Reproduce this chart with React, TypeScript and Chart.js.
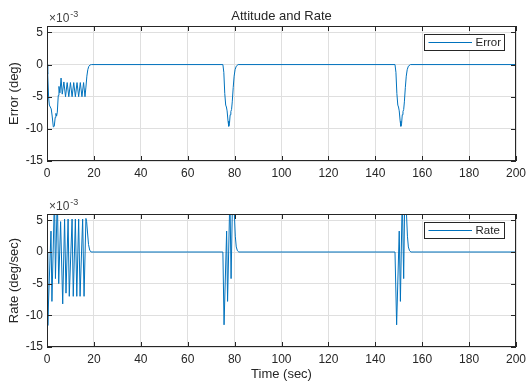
import React, { useEffect, useRef } from 'react';
import { Chart, registerables } from 'chart.js';

Chart.register(...registerables);

// ---------- data (values in units of 1e-3) ----------
const xTickValues = [0, 20, 40, 60, 80, 100, 120, 140, 160, 180, 200];
const yTickValues = [-15, -10, -5, 0, 5];
const xLimits = [0, 200];
const yLimits = [-15, 6];

const chartTitle = 'Attitude and Rate';
const xAxisLabel = 'Time (sec)';
const errorLabel = 'Error';
const rateLabel = 'Rate';
const errorAxisLabel = 'Error (deg)';
const rateAxisLabel = 'Rate (deg/sec)';

const errT = [
  0, 0.3, 0.7, 1.0, 1.4, 1.8, 2.2, 2.7, 3.1, 3.5, 3.8, 4.1, 4.4, 4.8, 5.1, 5.5, 6.0, 6.5,
  7.2, 7.9, 8.6, 9.3, 10.0, 10.7, 11.4, 12.1, 12.8, 13.5, 14.2, 14.9, 15.6, 16.2,
  16.6, 17.0, 17.4, 17.8, 18.4, 19.0,
  75.0, 75.4, 75.8, 76.2, 76.5, 76.8, 77.2, 77.5, 77.8, 78.1, 78.4, 78.7, 79.0, 79.4, 79.8, 80.2, 80.7, 81.5,
  148.4, 148.8, 149.2, 149.6, 149.9, 150.2, 150.6, 150.9, 151.2, 151.5, 151.8, 152.1, 152.4, 152.8, 153.2, 153.6, 154.1, 155.0,
  200,
];
const errV = [
  0, -1.5, -5.2, -6.3, -6.6, -6.9, -8.0, -9.7, -9.6, -8.2, -7.6, -8.0, -7.4, -4.8, -3.4, -4.4, -2.1, -4.6,
  -2.7, -5.0, -2.8, -5.0, -2.8, -5.0, -2.8, -5.0, -2.8, -5.0, -2.8, -5.0, -2.8, -5.0,
  -3.5, -1.8, -0.8, -0.3, -0.05, 0,
  0, -1.2, -4.5, -6.3, -6.6, -7.2, -8.8, -9.6, -9.2, -7.8, -7.3, -7.0, -5.8, -3.6, -1.8, -0.8, -0.25, 0,
  0, -1.2, -4.5, -6.3, -6.6, -7.2, -8.8, -9.6, -9.2, -7.8, -7.3, -7.0, -5.8, -3.6, -1.8, -0.8, -0.25, 0,
  0,
];

const rateT = [
  0, 0.3, 1.7, 2.1, 3.2, 3.6, 4.4, 5.0, 5.8, 6.7, 7.5, 8.1, 9.0, 9.5, 10.7, 11.2, 12.1, 12.7,
  13.5, 14.1, 15.2, 15.8, 16.6, 16.9, 17.3, 17.7, 18.2, 18.8,
  75.0, 75.5, 76.6, 77.0, 78.0, 78.5, 79.2, 79.9, 80.3, 80.7, 81.2, 81.8,
  148.4, 149.1, 150.2, 150.7, 151.5, 152.1, 152.6, 153.3, 153.7, 154.1, 154.6, 155.2,
  200,
];
const rateV = [
  0, -11.6, 3.3, -7.8, 9, -4.2, 9, -5.0, 4.8, -8.2, 5.2, -6.5, 5.2, -7.0, 5.2, -7.0, 5.2, -7.0,
  5.2, -7.0, 5.2, -7.0, 5.3, 4.8, 3.0, 1.2, 0.3, 0,
  0, -11.5, 3.3, -7.8, 9, -4.2, 10, 6, 2.5, 0.8, 0.2, 0,
  0, -11.5, 3.3, -7.8, 9, -4.2, 10, 6, 2.5, 0.8, 0.2, 0,
  0,
];

// ---------- styling ----------
const FONT = "'Liberation Sans', Arial, Helvetica, sans-serif";
const AXIS_COLOR = '#262626';
const GRID_COLOR = '#dfdfdf';
const LINE_COLOR = '#0072BD';

type DecorOpts = { legend: string; title?: string };

function makeDecor(o: DecorOpts) {
  return {
    id: 'matlabDecor',
    afterDraw(chart: any) {
      const { ctx, chartArea } = chart;
      const l = Math.round(chartArea.left);
      const r = Math.round(chartArea.right);
      const t = Math.round(chartArea.top);
      const b = Math.round(chartArea.bottom);
      const xs = chart.scales.x;
      const ys = chart.scales.y;
      ctx.save();
      // box
      ctx.strokeStyle = AXIS_COLOR;
      ctx.lineWidth = 1;
      ctx.strokeRect(l + 0.5, t + 0.5, r - l - 1, b - t - 1);
      // inward ticks
      const tl = 5;
      ctx.beginPath();
      for (const v of xTickValues) {
        const px = Math.round(xs.getPixelForValue(v)) + 0.5;
        ctx.moveTo(px, b);
        ctx.lineTo(px, b - tl);
        ctx.moveTo(px, t);
        ctx.lineTo(px, t + tl);
      }
      for (const v of yTickValues) {
        const py = Math.round(ys.getPixelForValue(v)) + 0.5;
        ctx.moveTo(l, py);
        ctx.lineTo(l + tl, py);
        ctx.moveTo(r, py);
        ctx.lineTo(r - tl, py);
      }
      ctx.stroke();
      // exponent label
      ctx.fillStyle = '#404040';
      ctx.textBaseline = 'alphabetic';
      ctx.textAlign = 'left';
      ctx.font = `12px ${FONT}`;
      const base = t - 4;
      ctx.fillText('\u00d710', l + 2, base);
      const w = ctx.measureText('\u00d710').width;
      ctx.font = `9px ${FONT}`;
      ctx.fillText('-3', l + 3 + w, base - 5);
      // title
      if (o.title) {
        ctx.fillStyle = AXIS_COLOR;
        ctx.font = `13px ${FONT}`;
        ctx.textAlign = 'center';
        ctx.fillText(o.title, (l + r) / 2, t - 6);
      }
      // legend
      const lx = r - 91.5;
      const ly = t + 8.5;
      const lw = 80;
      const lh = 16;
      ctx.fillStyle = '#ffffff';
      ctx.fillRect(lx, ly, lw, lh);
      ctx.strokeStyle = AXIS_COLOR;
      ctx.strokeRect(lx, ly, lw, lh);
      ctx.strokeStyle = LINE_COLOR;
      ctx.beginPath();
      ctx.moveTo(lx + 4, ly + lh / 2);
      ctx.lineTo(lx + 47.5, ly + lh / 2);
      ctx.stroke();
      ctx.fillStyle = AXIS_COLOR;
      ctx.font = `11.5px ${FONT}`;
      ctx.textAlign = 'left';
      ctx.textBaseline = 'middle';
      ctx.fillText(o.legend, lx + 51, ly + lh / 2 + 0.5);
      ctx.restore();
    },
  };
}

function makeConfig(p: {
  t: number[];
  v: number[];
  legend: string;
  ylabel: string;
  xlabel?: string;
  title?: string;
  padTop: number;
  padBottom: number;
  xAxisH: number;
}): any {
  const points = p.t.map((x, i) => ({ x, y: p.v[i] }));
  return {
    type: 'line',
    data: {
      datasets: [
        {
          label: p.legend,
          data: points,
          borderColor: LINE_COLOR,
          borderWidth: 1,
          pointRadius: 0,
          tension: 0,
          fill: false,
        },
      ],
    },
    options: {
      responsive: false,
      animation: false,
      events: [],
      layout: { padding: { left: 0, right: 10, top: p.padTop, bottom: p.padBottom } },
      plugins: { legend: { display: false }, title: { display: false }, tooltip: { enabled: false } },
      scales: {
        x: {
          type: 'linear',
          min: xLimits[0],
          max: xLimits[1],
          afterBuildTicks: (s: any) => {
            s.ticks = xTickValues.map((value) => ({ value }));
          },
          afterFit: (s: any) => {
            s.height = p.xAxisH;
            s.paddingLeft = 0;
            s.paddingRight = 0;
          },
          ticks: {
            maxRotation: 0,
            autoSkip: false,
            padding: 5,
            color: AXIS_COLOR,
            font: { family: FONT, size: 12 },
          },
          grid: { color: GRID_COLOR, drawTicks: false, lineWidth: 1 },
          border: { display: false },
          title: p.xlabel
            ? {
                display: true,
                text: p.xlabel,
                color: AXIS_COLOR,
                font: { family: FONT, size: 13 },
                padding: { top: 0, bottom: 0 },
              }
            : { display: false },
        },
        y: {
          type: 'linear',
          min: yLimits[0],
          max: yLimits[1],
          afterBuildTicks: (s: any) => {
            s.ticks = yTickValues.map((value) => ({ value }));
          },
          afterFit: (s: any) => {
            s.width = 47;
            s.paddingTop = 0;
            s.paddingBottom = 0;
          },
          ticks: {
            padding: 4,
            color: AXIS_COLOR,
            font: { family: FONT, size: 12 },
          },
          grid: { color: GRID_COLOR, drawTicks: false, lineWidth: 1 },
          border: { display: false },
          title: {
            display: true,
            text: p.ylabel,
            color: AXIS_COLOR,
            font: { family: FONT, size: 13 },
            padding: { top: 7, bottom: 0 },
          },
        },
      },
    },
    plugins: [makeDecor({ legend: p.legend, title: p.title })],
  };
}

export default function App() {
  const topRef = useRef<HTMLCanvasElement>(null);
  const botRef = useRef<HTMLCanvasElement>(null);

  useEffect(() => {
    const c1 = new Chart(
      topRef.current as HTMLCanvasElement,
      makeConfig({
        t: errT,
        v: errV,
        legend: errorLabel,
        ylabel: errorAxisLabel,
        title: chartTitle,
        padTop: 26,
        padBottom: 386 - 161 - 20,
        xAxisH: 20,
      })
    );
    const c2 = new Chart(
      botRef.current as HTMLCanvasElement,
      makeConfig({
        t: rateT,
        v: rateV,
        legend: rateLabel,
        ylabel: rateAxisLabel,
        xlabel: xAxisLabel,
        padTop: 214,
        padBottom: 386 - 347 - 35,
        xAxisH: 35,
      })
    );
    return () => {
      c1.destroy();
      c2.destroy();
    };
  }, []);

  const cs: React.CSSProperties = { position: 'absolute', left: 0, top: 0, width: 526, height: 386 };
  return (
    <div style={{ position: 'fixed', left: 0, top: 0, width: 526, height: 386, background: '#ffffff' }}>
      <canvas ref={topRef} width={526} height={386} style={cs} />
      <canvas ref={botRef} width={526} height={386} style={cs} />
    </div>
  );
}
